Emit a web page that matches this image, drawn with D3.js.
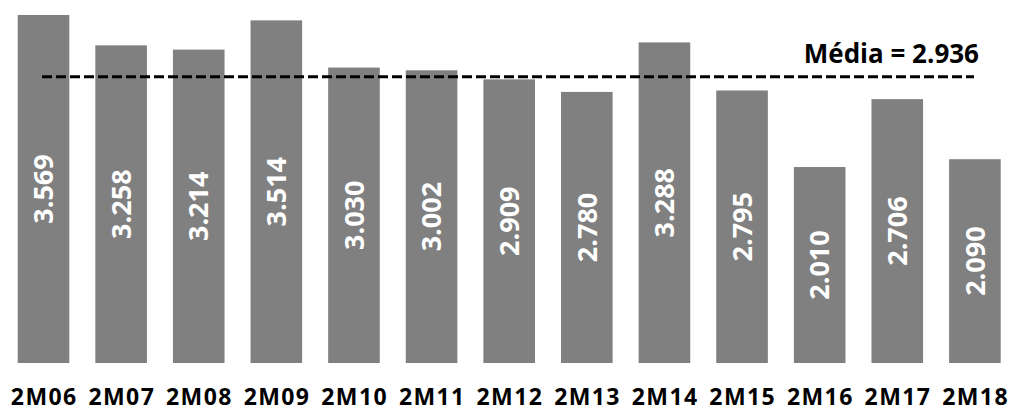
<!DOCTYPE html>
<html>
<head>
<meta charset="utf-8">
<script src="https://d3js.org/d3.v7.min.js"></script>
<style>
  body { margin: 0; background: #fff; }
  text { font-family: "Open Sans", "Noto Sans", sans-serif; font-weight: bold; }
</style>
</head>
<body>
<svg id="chart" width="1012" height="412"></svg>
<script>
const categories = ["2M06", "2M07", "2M08", "2M09", "2M10", "2M11", "2M12", "2M13", "2M14", "2M15", "2M16", "2M17", "2M18"];
const values = [3.569, 3.258, 3.214, 3.514, 3.030, 3.002, 2.909, 2.780, 3.288, 2.795, 2.010, 2.706, 2.090];
const mean = 2.936;

const svg = d3.select("#chart");
const fmt = d3.format(".3f");

const x = d3.scaleBand()
  .domain(categories)
  .range([17.7, 1000.7])
  .paddingInner(0.335)
  .paddingOuter(0);

const y = d3.scaleLinear()
  .domain([0, 3.569])
  .range([363, 15]);

svg.selectAll(".bar")
  .data(values)
  .enter()
  .append("rect")
  .attr("class", "bar")
  .attr("x", (d, i) => x(categories[i]))
  .attr("y", d => y(d))
  .attr("width", x.bandwidth())
  .attr("height", d => y(0) - y(d))
  .attr("fill", "#808080");

// value labels, rotated inside the bars
svg.selectAll(".val")
  .data(values)
  .enter()
  .append("text")
  .attr("class", "val")
  .attr("transform", (d, i) => {
    const cx = x(categories[i]) + x.bandwidth() / 2;
    const cy = (y(d) + y(0)) / 2;
    return `translate(${cx},${cy}) rotate(-90)`;
  })
  .attr("text-anchor", "middle")
  .attr("dy", "0.36em")
  .attr("fill", "#fff")
  .style("font-size", "27px")
  .text(d => fmt(d));

// category labels
svg.selectAll(".cat")
  .data(categories)
  .enter()
  .append("text")
  .attr("class", "cat")
  .attr("x", d => x(d) + x.bandwidth() / 2 + 0.7)
  .attr("y", 405)
  .attr("text-anchor", "middle")
  .attr("fill", "#000")
  .style("font-size", "23px")
  .style("letter-spacing", "1.4px")
  .text(d => d);

// mean line
svg.append("line")
  .attr("x1", 42)
  .attr("x2", 974)
  .attr("y1", y(mean))
  .attr("y2", y(mean))
  .attr("stroke", "#000")
  .attr("stroke-width", 3)
  .attr("stroke-dasharray", "10,4");

svg.append("text")
  .attr("x", 979)
  .attr("y", 63)
  .attr("text-anchor", "end")
  .attr("fill", "#000")
  .style("font-size", "26px")
  .text("Média = " + fmt(mean));
</script>
</body>
</html>
